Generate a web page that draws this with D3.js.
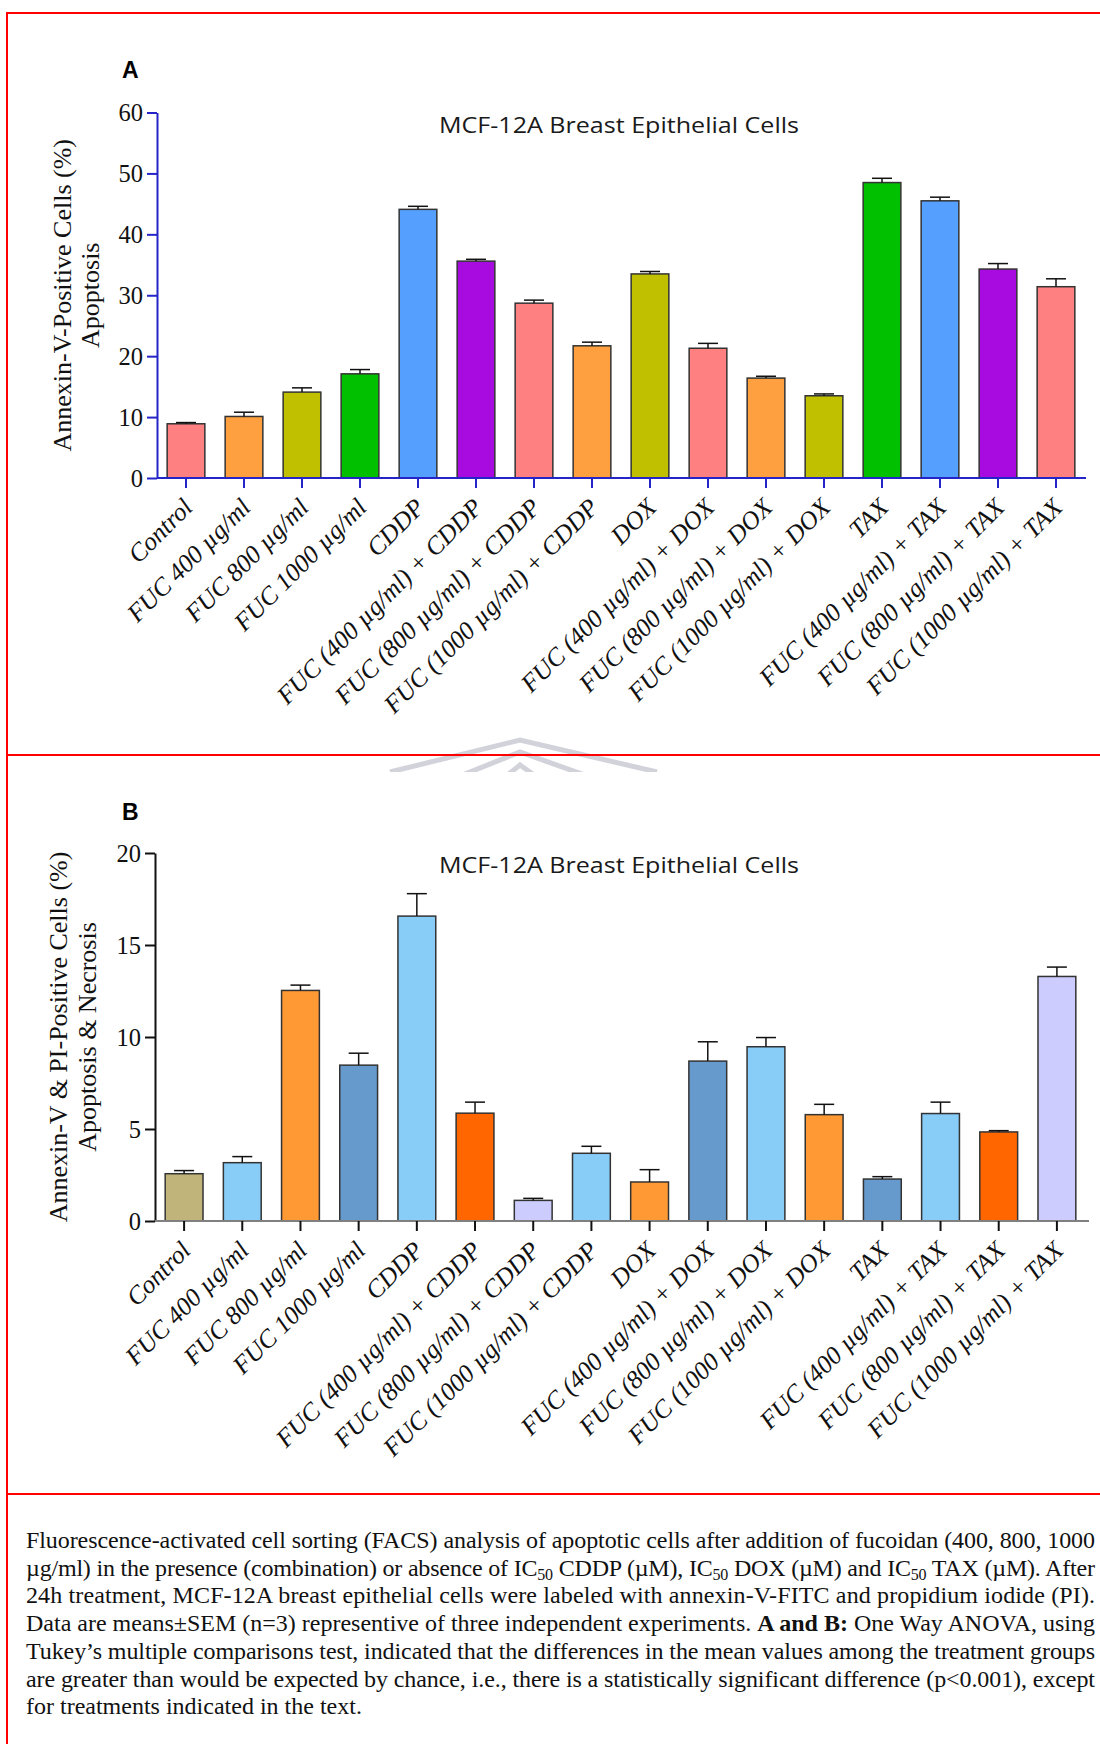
<!DOCTYPE html>
<html>
<head>
<meta charset="utf-8">
<script src="https://cdn.jsdelivr.net/npm/d3@7"></script>
<style>
  html, body { margin: 0; padding: 0; background: #fff; }
  svg { display: block; }
</style>
</head>
<body>
<script>
// ---------------- DATA ----------------
const categories = [
  "Control", "FUC 400 µg/ml", "FUC 800 µg/ml", "FUC 1000 µg/ml",
  "CDDP", "FUC (400 µg/ml) + CDDP", "FUC (800 µg/ml) + CDDP", "FUC (1000 µg/ml) + CDDP",
  "DOX", "FUC (400 µg/ml) + DOX", "FUC (800 µg/ml) + DOX", "FUC (1000 µg/ml) + DOX",
  "TAX", "FUC (400 µg/ml) + TAX", "FUC (800 µg/ml) + TAX", "FUC (1000 µg/ml) + TAX"
];
// Panel A: Annexin-V-positive cells (%) — apoptosis
const apoptosisMean = [8.9, 10.1, 14.1, 17.1, 44.1, 35.6, 28.7, 21.7, 33.5, 21.3, 16.4, 13.5, 48.5, 45.5, 34.3, 31.4];
const apoptosisSEM  = [0.2, 0.7, 0.7, 0.7, 0.5, 0.3, 0.5, 0.6, 0.4, 0.8, 0.3, 0.3, 0.7, 0.6, 0.9, 1.3];
const apoptosisTicks = [0, 10, 20, 30, 40, 50, 60];
// Panel B: Annexin-V & PI-positive cells (%) — apoptosis & necrosis
const necrosisMean = [2.57, 3.17, 12.53, 8.47, 16.57, 5.86, 1.12, 3.68, 2.12, 8.69, 9.47, 5.78, 2.28, 5.84, 4.84, 13.29];
const necrosisSEM  = [0.17, 0.33, 0.29, 0.65, 1.22, 0.60, 0.11, 0.38, 0.67, 1.05, 0.50, 0.56, 0.13, 0.62, 0.07, 0.51];
const necrosisTicks = [0, 5, 10, 15, 20];

// colour palettes
const colorsA = ["#ff8080", "#ffa040", "#c0c000", "#00c000", "#55a0ff", "#a80be0", "#ff8080", "#ffa040",
                 "#c0c000", "#ff8080", "#ffa040", "#c0c000", "#00c000", "#55a0ff", "#a80be0", "#ff8080"];
const colorsB = ["#c0b47a", "#88ccf8", "#ff9933", "#6699cc", "#88ccf8", "#ff6600", "#ccccff", "#88ccf8",
                 "#ff9933", "#6699cc", "#88ccf8", "#ff9933", "#6699cc", "#88ccf8", "#ff6600", "#ccccff"];

const captionLines = [
  [["Fluorescence-activated cell sorting (FACS) analysis of apoptotic cells after addition of fucoidan (400, 800, 1000", ""]],
  [["µg/ml) in the presence (combination) or absence of IC", ""], ["50", "sub"], [" CDDP (µM), IC", ""], ["50", "sub"], [" DOX (µM) and IC", ""], ["50", "sub"], [" TAX (µM). After", ""]],
  [["24h treatment, MCF-12A breast epithelial cells were labeled with annexin-V-FITC and propidium iodide (PI).", ""]],
  [["Data are means±SEM (n=3) representive of three independent experiments. ", ""], ["A and B:", "bold"], [" One Way ANOVA, using", ""]],
  [["Tukey’s multiple comparisons test, indicated that the differences in the mean values among the treatment groups", ""]],
  [["are greater than would be expected by chance, i.e., there is a statistically significant difference (p<0.001), except", ""]],
  [["for treatments indicated in the text.", ""]]
];

// ---------------- DRAWING ----------------
const W = 1100, H = 1744;
const serif = "'Liberation Serif', 'Times New Roman', Times, serif";
const sans = "'Open Sans', 'Noto Sans', 'DejaVu Sans', sans-serif";

const svg = d3.select("body").append("svg")
  .attr("width", W).attr("height", H)
  .style("background", "#fff");

svg.append("rect").attr("width", W).attr("height", H).attr("fill", "#fff");

// faint watermark (chevrons) around the panel divider
const wm = svg.append("g").attr("opacity", 0.45);
const wmClip = svg.append("clipPath").attr("id", "wmclip");
wmClip.append("rect").attr("x", 300).attr("y", 720).attr("width", 500).attr("height", 52);
const wmg = wm.append("g").attr("clip-path", "url(#wmclip)");
[[740, 390, 657], [752, 440, 610], [765, 480, 565]].forEach(([py, lx, rx]) => {
  wmg.append("path")
    .attr("d", d3.line()([[lx, py + 32], [520, py], [rx, py + 32]]))
    .attr("fill", "none").attr("stroke", "#9c9cb0").attr("stroke-width", 5);
});

function panel(o) {
  const g = svg.append("g");
  const x = d3.scaleBand().domain(categories).range(o.xRange).paddingInner(0.35).paddingOuter(0.175);
  const y = d3.scaleLinear().domain(o.yDomain).range(o.yRange);

  // panel letter
  g.append("text").attr("x", o.letterX).attr("y", o.letterY)
    .attr("font-family", "'Liberation Sans', Arial, sans-serif").attr("font-weight", "bold")
    .attr("font-size", 23).attr("fill", "#000").text(o.letter);

  // title
  g.append("text").attr("x", 619).attr("y", o.titleY)
    .attr("text-anchor", "middle").attr("font-family", sans).attr("font-size", 22)
    .attr("textLength", 360).attr("lengthAdjust", "spacingAndGlyphs")
    .attr("fill", "#1a1a1a").text("MCF-12A Breast Epithelial Cells");

  // bars
  const data = categories.map((c, i) => ({ c, v: o.mean[i], e: o.sem[i], col: o.colors[i] }));
  g.append("g").selectAll("rect").data(data).join("rect")
    .attr("x", d => x(d.c)).attr("width", x.bandwidth())
    .attr("y", d => y(d.v)).attr("height", d => y(0) - y(d.v))
    .attr("fill", d => d.col).attr("stroke", "#333").attr("stroke-width", 1.5);

  // error bars (upper only)
  const eb = g.append("g").attr("stroke", "#111").attr("stroke-width", 1.5);
  eb.selectAll("line.v").data(data).join("line").attr("class", "v")
    .attr("x1", d => x(d.c) + x.bandwidth() / 2).attr("x2", d => x(d.c) + x.bandwidth() / 2)
    .attr("y1", d => y(d.v)).attr("y2", d => y(d.v + d.e));
  eb.selectAll("line.c").data(data).join("line").attr("class", "c")
    .attr("x1", d => x(d.c) + x.bandwidth() / 2 - 10).attr("x2", d => x(d.c) + x.bandwidth() / 2 + 10)
    .attr("y1", d => y(d.v + d.e)).attr("y2", d => y(d.v + d.e));

  // y axis
  const ya = g.append("g").attr("transform", `translate(${o.xRange[0]},0)`)
    .call(d3.axisLeft(y).tickValues(o.ticks).tickSize(10).tickSizeOuter(0).tickPadding(4));
  ya.select(".domain").attr("stroke", o.yAxisColor).attr("stroke-width", 2);
  ya.selectAll(".tick line").attr("stroke", o.yAxisColor).attr("stroke-width", 2);
  ya.selectAll(".tick text").attr("font-family", serif).attr("font-size", 24.5).attr("fill", "#111")
    .attr("dy", "0.34em");

  // x axis
  const xa = g.append("g").attr("transform", `translate(0,${o.yRange[0]})`)
    .call(d3.axisBottom(x).tickSize(10).tickSizeOuter(0));
  xa.select(".domain").attr("stroke", o.xAxisColor).attr("stroke-width", 2)
    .attr("d", `M${o.xRange[0]},0H${o.xAxisEnd}`);
  xa.selectAll(".tick line").attr("stroke", o.xTickColor).attr("stroke-width", 2);
  xa.selectAll(".tick text")
    .attr("font-family", serif).attr("font-style", "italic").attr("font-size", 25.5).attr("fill", "#111")
    .attr("text-anchor", "end").attr("x", 0).attr("y", 0).attr("dy", null)
    .attr("transform", "translate(8,31) rotate(-45)");

  // y axis title (two lines)
  const cy = (o.yRange[0] + o.yRange[1]) / 2;
  o.yTitle.forEach((t, i) => {
    g.append("text")
      .attr("transform", `translate(${o.yTitleX[i]},${cy}) rotate(-90)`)
      .attr("text-anchor", "middle").attr("font-family", serif).attr("font-size", 26)
      .attr("fill", "#111").text(t);
  });
}

panel({
  letter: "A", letterX: 122, letterY: 78, titleY: 133,
  xRange: [157, 1085], xAxisEnd: 1086, yRange: [478, 112.5], yDomain: [0, 60],
  ticks: apoptosisTicks, mean: apoptosisMean, sem: apoptosisSEM, colors: colorsA,
  yAxisColor: "#2424c8", xAxisColor: "#2424c8", xTickColor: "#2424c8",
  yTitle: ["Annexin-V-Positive Cells (%)", "Apoptosis"], yTitleX: [71, 99]
});

panel({
  letter: "B", letterX: 122, letterY: 820, titleY: 873,
  xRange: [155, 1086], xAxisEnd: 1089, yRange: [1221, 853], yDomain: [0, 20],
  ticks: necrosisTicks, mean: necrosisMean, sem: necrosisSEM, colors: colorsB,
  yAxisColor: "#111", xAxisColor: "#808080", xTickColor: "#111",
  yTitle: ["Annexin-V & PI-Positive Cells (%)", "Apoptosis & Necrosis"], yTitleX: [67, 96]
});

// caption
const cap = svg.append("g").attr("font-family", serif).attr("font-size", 24).attr("fill", "#111");
captionLines.forEach((parts, i) => {
  const t = cap.append("text").attr("x", 26).attr("y", 1548 + i * 27.7);
  if (i < captionLines.length - 1) t.attr("textLength", 1069).attr("lengthAdjust", "spacing");
  parts.forEach(([s, kind]) => {
    const ts = t.append("tspan").text(s);
    if (kind === "sub") ts.attr("font-size", 16).attr("dy", 4);
    else if (kind === "bold") ts.attr("font-weight", "bold");
  });
  // undo subscript shifts
  t.selectAll("tspan").each(function (d, j, nodes) {
    const prev = j > 0 ? d3.select(nodes[j - 1]) : null;
    if (prev && prev.attr("font-size") === "16" && d3.select(this).attr("font-size") !== "16") d3.select(this).attr("dy", -4);
  });
});

// red frame lines
const red = svg.append("g").attr("stroke", "#ff0000").attr("stroke-width", 2);
red.append("line").attr("x1", 7).attr("x2", W).attr("y1", 13).attr("y2", 13);
red.append("line").attr("x1", 7).attr("x2", W).attr("y1", 755).attr("y2", 755);
red.append("line").attr("x1", 7).attr("x2", W).attr("y1", 1494).attr("y2", 1494);
red.append("line").attr("x1", 7).attr("x2", 7).attr("y1", 12).attr("y2", H);
</script>
</body>
</html>
